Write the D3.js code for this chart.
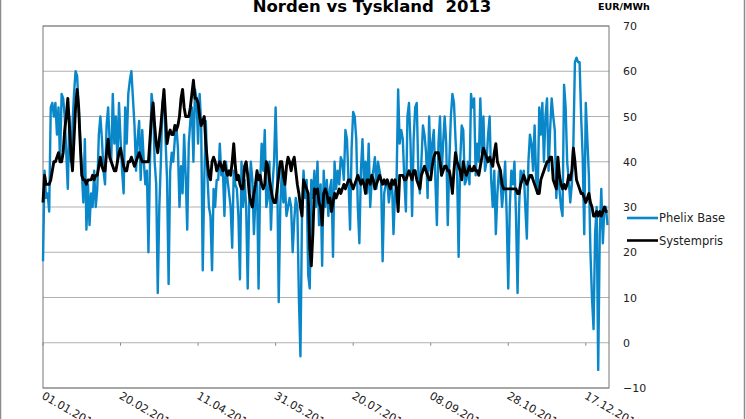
<!DOCTYPE html>
<html><head><meta charset="utf-8">
<script src="https://cdn.jsdelivr.net/npm/d3@7"></script>
<style>body{margin:0;background:#fff}svg{display:block}</style>
</head><body>
<svg id="c" width="746" height="419"></svg>
<script>
const title = "Norden vs Tyskland  2013";
const unitLabel = "EUR/MWh";
const seriesNames = ["Phelix Base", "Systempris"];
const xTickLabels = ["01.01.2013","20.02.2013","11.04.2013","31.05.2013","20.07.2013","08.09.2013","28.10.2013","17.12.2013"];
const yTicks = [-10,0,10,20,30,40,50,60,70];
const phelix = [
18,38,32,33,29,52,53,50,53,46,
52,40,55,54,50,42,34,50,40,48,
55,60,59,52,45,38,31,45,25,35,
26,33,30,38,30,34,46,50,45,38,
35,48,52,44,40,55,44,50,40,53,
45,38,33,52,44,55,58,60,54,48,
38,45,49,36,47,40,35,38,20,40,
55,52,40,35,11,30,40,53,55,45,
36,13,38,42,40,45,48,43,30,39,
33,46,37,25,44,49,52,40,56,54,
44,55,48,16,36,49,37,30,28,16,
34,30,36,36,44,37,38,28,40,36,
33,30,21,38,35,34,28,14,40,30,
36,30,12,32,40,36,24,32,36,12,
35,44,38,47,30,32,40,25,35,40,
52,38,9,30,38,31,35,28,30,32,
30,20,27,32,30,10,-3,28,38,32,
36,15,12,36,32,38,30,40,26,35,
17,38,30,36,28,34,36,19,40,34,
38,35,41,40,36,47,45,36,25,43,
51,50,45,30,22,38,45,35,40,33,
44,30,36,38,41,34,40,38,36,18,
33,35,36,31,34,36,24,33,36,56,
44,47,45,36,29,50,53,44,28,45,
52,53,38,33,40,48,46,42,32,50,
38,44,47,36,26,44,50,37,44,50,
44,26,40,50,55,53,45,38,19,40,
48,47,35,36,40,35,55,52,54,37,
44,40,54,42,50,38,40,46,50,36,
30,38,24,33,38,36,30,34,40,28,
12,30,38,35,40,28,11,30,38,36,
38,30,23,40,46,44,38,48,36,33,
52,46,53,40,50,54,38,47,54,50,
47,32,40,34,30,28,57,52,40,36,
31,35,44,62,63,62,62,50,41,24,
53,45,37,20,10,3,24,30,-6,24,
34,22,30,30,26];
const systempris = [
31,37,35,35,35,36,38,40,40,41,
42,40,40,42,47,50,54,48,42,38,
45,52,56,52,44,37,36,36,35,36,
36,36,37,36,37,37,39,41,39,38,
38,42,45,41,40,39,38,38,40,42,
43,41,39,38,38,40,40,41,40,39,
40,41,42,41,40,40,40,40,40,45,
50,53,48,44,42,45,48,52,56,50,
44,46,47,46,46,48,47,48,50,54,
56,52,50,50,50,52,55,58,54,54,
53,50,48,49,50,44,40,37,36,40,
41,40,38,39,40,39,38,40,38,37,
38,37,40,44,39,36,37,35,34,34,
39,40,37,33,31,30,33,35,38,36,
37,35,34,35,40,39,36,34,32,31,
31,34,37,40,40,37,35,39,41,40,
38,40,41,38,35,33,30,28,36,35,
34,33,21,17,24,34,33,34,31,30,
26,33,34,33,31,32,29,31,33,32,
33,34,33,34,35,34,35,36,36,35,
34,35,36,37,36,35,36,35,33,36,
36,35,37,36,34,35,36,37,36,35,
36,35,36,35,34,36,35,36,34,29,
37,37,37,36,36,37,38,37,36,38,
38,36,35,34,37,38,39,38,37,36,
36,39,41,42,42,42,40,37,38,39,
39,38,38,36,33,38,42,40,39,38,
36,40,38,37,38,39,38,38,39,38,
38,37,39,41,43,42,41,40,41,40,
39,42,44,40,39,38,35,34,34,34,
34,34,34,34,34,34,33,33,35,36,
37,36,35,36,37,37,36,35,34,33,
33,36,37,38,39,40,40,41,41,36,
35,34,41,37,35,34,35,34,35,37,
36,38,43,40,36,35,34,33,33,32,
31,32,33,31,30,28,28,29,28,29,
28,29,30,29,29];

const svg = d3.select("#c");
const L=43,R=609,T=26,B=388;
const start = new Date(2013,0,1);
const dates = phelix.map((d,i)=>d3.timeDay.offset(start,i));
const x = d3.scaleTime().domain([start, d3.timeDay.offset(start,364)]).range([L,R-1.5]);
const y = d3.scaleLinear().domain([-10,70]).range([B,T]);

svg.append("rect").attr("x",0.5).attr("y",-2).attr("width",744).attr("height",425)
  .attr("fill","none").attr("stroke","#8c8c8c").attr("stroke-width",1.5);

svg.append("g").selectAll("line").data(yTicks).join("line")
  .attr("x1",L).attr("x2",R).attr("y1",d=>y(d)).attr("y2",d=>y(d))
  .attr("stroke","#b0b0b0").attr("stroke-width",1);

svg.append("rect").attr("x",L).attr("y",T).attr("width",R-L).attr("height",B-T)
  .attr("fill","none").attr("stroke","#777").attr("stroke-width",1);

const ya = svg.append("g").attr("transform",`translate(${R},0)`)
  .call(d3.axisRight(y).tickValues(yTicks).tickSize(0).tickPadding(14));
ya.select(".domain").remove();
ya.selectAll("text").attr("font-family","DejaVu Sans").attr("font-size",11).attr("fill","#222");

const tickDates = xTickLabels.map((s,i)=>d3.timeDay.offset(start,i*50));
svg.append("g").selectAll("line").data(tickDates).join("line")
  .attr("x1",d=>x(d)).attr("x2",d=>x(d)).attr("y1",y(0)).attr("y2",y(0)+3)
  .attr("stroke","#888");
svg.append("g").selectAll("text").data(xTickLabels).join("text")
  .attr("transform",(d,i)=>`translate(${x(tickDates[i])-2},${B+10}) rotate(30)`)
  .attr("font-family","DejaVu Sans").attr("font-size",11).attr("fill","#222").text(d=>d);

const line = d3.line().x((d,i)=>x(dates[i])).y(d=>y(d));
svg.append("path").attr("d",line(phelix)).attr("fill","none").attr("stroke","#0a87c9").attr("stroke-width",2.4).attr("stroke-linejoin","round");
svg.append("path").attr("d",line(systempris)).attr("fill","none").attr("stroke","#000").attr("stroke-width",2.9).attr("stroke-linejoin","round");

svg.append("text").attr("x",372).attr("y",12).attr("text-anchor","middle")
  .style("white-space","pre")
  .attr("font-family","DejaVu Sans").attr("font-weight","bold").attr("font-size",16.5).text(title);
svg.append("text").attr("x",598).attr("y",10)
  .attr("font-family","DejaVu Sans").attr("font-weight","bold").attr("font-size",9.5).text(unitLabel);

const cols=["#0a87c9","#000"];
seriesNames.forEach((n,i)=>{
  const yy = 218 + i*22.5;
  svg.append("line").attr("x1",627).attr("x2",658).attr("y1",yy).attr("y2",yy).attr("stroke",cols[i]).attr("stroke-width",2.6);
  svg.append("text").attr("x",659).attr("y",yy+4).attr("font-family","DejaVu Sans").attr("font-size",11.5).attr("fill","#222").text(n);
});
</script>
</body></html>
